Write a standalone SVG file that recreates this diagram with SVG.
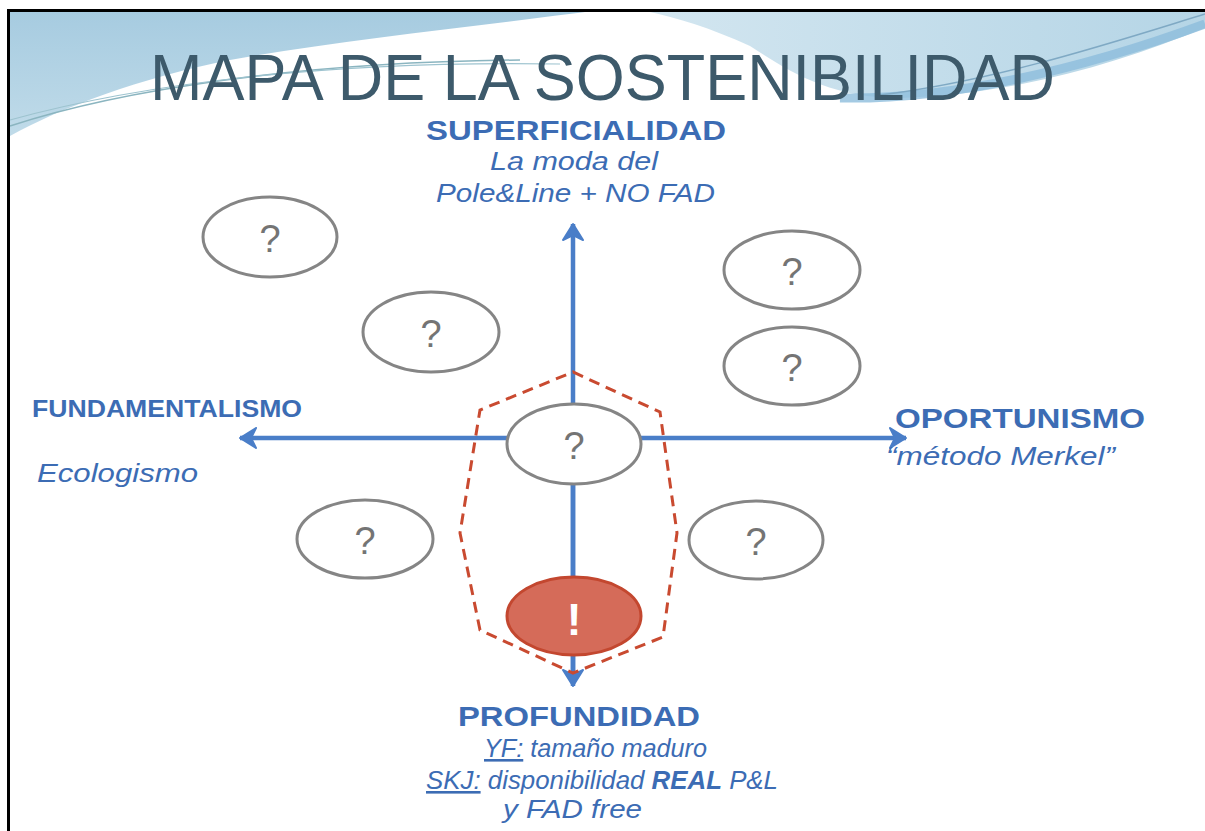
<svg xmlns="http://www.w3.org/2000/svg" width="1205" height="831" viewBox="0 0 1205 831">
<defs>
<linearGradient id="bgL" x1="0" y1="0" x2="0" y2="1">
<stop offset="0" stop-color="#a6cbe0"/>
<stop offset="1" stop-color="#c0dbe9"/>
</linearGradient>
<linearGradient id="bgR" x1="0" y1="0" x2="1" y2="0">
<stop offset="0" stop-color="#d3e6f0"/>
<stop offset="1" stop-color="#b5d5e6"/>
</linearGradient>
<marker id="arr" viewBox="-18 -11 20 22" refX="0" refY="0" markerWidth="20" markerHeight="22" markerUnits="userSpaceOnUse" orient="auto">
<path d="M0,0 L-16,-10 L-11,0 L-16,10 Z" fill="#4a7ec8" stroke="#4a7ec8" stroke-width="2" stroke-linejoin="round"/>
</marker>
</defs>
<style>
.lbl{fill:#3c6cb4;font-family:"Liberation Sans",Arial,sans-serif}
.b{font-weight:bold}
.i{font-style:italic}
.q{fill:#747474;font-family:"Liberation Sans",Arial,sans-serif;font-size:38px;text-anchor:middle}
.ell{fill:none;stroke:#858585;stroke-width:3}
.axis{stroke:#4a7ec8;stroke-width:4.5;fill:none}
</style>
<rect x="0" y="0" width="1205" height="831" fill="#ffffff"/>
<g id="background">
<path d="M10,10 L600,10 C480,26 340,40 230,60 C140,78 60,108 10,136 Z" fill="url(#bgL)"/>
<path d="M640,10 L1205,10 L1205,28 C1120,62 1020,94 900,98 C830,98 790,72 750,46 C710,28 680,18 640,10 Z" fill="url(#bgR)"/>
<path d="M840,98 C950,100 1080,70 1205,24" fill="none" stroke="#8dbddc" stroke-width="9" opacity="0.8"/>
<path d="M880,95 C1000,80 1120,40 1205,14" fill="none" stroke="#7fa9c4" stroke-width="1.5"/>
<path d="M10,126 C120,90 300,62 520,60" fill="none" stroke="#8bb5c0" stroke-width="1.5"/>
<path d="M10,120 C140,84 330,60 560,64" fill="none" stroke="#9dc3cf" stroke-width="1.2"/>
</g>
<rect x="7" y="9" width="1198" height="3" fill="#000"/>
<rect x="7" y="9" width="3" height="822" fill="#000"/>
<text id="title" x="150" y="100" font-family="'Liberation Sans',Arial,sans-serif" font-size="64" fill="#3d5a6b" textLength="905" lengthAdjust="spacingAndGlyphs">MAPA DE LA SOSTENIBILIDAD</text>
<g id="connectors">
<line class="axis" x1="573" y1="670" x2="573" y2="224" marker-end="url(#arr)"/>
<line class="axis" x1="573" y1="440" x2="573" y2="686" marker-end="url(#arr)"/>
<line class="axis" x1="573" y1="438" x2="240" y2="438" marker-end="url(#arr)"/>
<line class="axis" x1="573" y1="438" x2="906" y2="438" marker-end="url(#arr)"/>
</g>
<g id="region">
<path d="M573,372 L660,412 L677,533 L663,637 L573,673 L480,630 L460,533 L480,410 Z" fill="none" stroke="#c94a30" stroke-width="3" stroke-dasharray="11,7"/>
</g>
<g id="n1"><ellipse class="ell" cx="270" cy="237" rx="67" ry="40"/><text class="q" x="270" y="252">?</text></g>
<g id="n2"><ellipse class="ell" cx="431" cy="332" rx="68" ry="40"/><text class="q" x="431" y="347">?</text></g>
<g id="n3"><ellipse class="ell" cx="792" cy="270" rx="68" ry="39"/><text class="q" x="792" y="285">?</text></g>
<g id="n4"><ellipse class="ell" cx="792" cy="366" rx="68" ry="39"/><text class="q" x="792" y="381">?</text></g>
<g id="n5"><ellipse class="ell" cx="365" cy="539" rx="68" ry="39"/><text class="q" x="365" y="554">?</text></g>
<g id="n6"><ellipse class="ell" cx="756" cy="540" rx="67" ry="39"/><text class="q" x="756" y="555">?</text></g>
<g id="n7"><ellipse class="ell" cx="574" cy="444" rx="67" ry="40" style="fill:#ffffff"/><text class="q" x="574" y="459">?</text></g>
<g id="n8"><ellipse cx="574" cy="616" rx="67" ry="39" fill="#d56b59" stroke="#c3472f" stroke-width="3"/><text x="574" y="635" font-family="'Liberation Sans',Arial,sans-serif" font-weight="bold" font-size="44" fill="#ffffff" text-anchor="middle">!</text></g>
<g id="top-label">
<text class="lbl b" x="426" y="140" font-size="28" textLength="300" lengthAdjust="spacingAndGlyphs">SUPERFICIALIDAD</text>
<text class="lbl i" x="490" y="170" font-size="26" textLength="168" lengthAdjust="spacingAndGlyphs">La moda del</text>
<text class="lbl i" x="436" y="202" font-size="26" textLength="279" lengthAdjust="spacingAndGlyphs">Pole&amp;Line + NO FAD</text>
</g>
<g id="left-label">
<text class="lbl b" x="32" y="417" font-size="23" textLength="270" lengthAdjust="spacingAndGlyphs">FUNDAMENTALISMO</text>
<text class="lbl i" x="37" y="482" font-size="25" textLength="161" lengthAdjust="spacingAndGlyphs">Ecologismo</text>
</g>
<g id="right-label">
<text class="lbl b" x="895" y="428" font-size="28" textLength="250" lengthAdjust="spacingAndGlyphs">OPORTUNISMO</text>
<text class="lbl i" x="886" y="465" font-size="25" textLength="229" lengthAdjust="spacingAndGlyphs">“método Merkel”</text>
</g>
<g id="bottom-label">
<text class="lbl b" x="458" y="726" font-size="28" textLength="242" lengthAdjust="spacingAndGlyphs">PROFUNDIDAD</text>
<text class="lbl i" x="484" y="757" font-size="26" textLength="223" lengthAdjust="spacingAndGlyphs"><tspan text-decoration="underline">YF:</tspan> tamaño maduro</text>
<text class="lbl i" x="426" y="789" font-size="26" textLength="352" lengthAdjust="spacingAndGlyphs"><tspan text-decoration="underline">SKJ:</tspan> disponibilidad <tspan class="b">REAL</tspan> P&amp;L</text>
<text class="lbl i" x="503" y="818" font-size="26" textLength="139" lengthAdjust="spacingAndGlyphs">y FAD free</text>
</g>
</svg>
